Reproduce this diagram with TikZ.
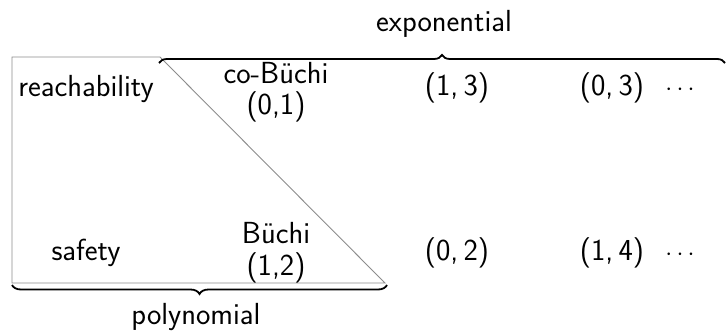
\documentclass[tikz,border=0pt]{standalone}
\usetikzlibrary{decorations.pathreplacing}
\begin{document}
\begin{tikzpicture}[x=1pt,y=1pt,
  lbl/.style={font=\sffamily\fontsize{30.5}{36}\selectfont, inner sep=0pt, align=center},
  region/.style={draw=black!45, line width=0.9pt},
  bracestyle/.style={draw=black, line width=1.8pt, decorate}]
\useasboundingbox (0,0) rectangle (726,330);
% trapezoid
\coordinate (tl) at (12,273);
\coordinate (tr) at (160,273);
\coordinate (br) at (385,47);
\coordinate (bl) at (12,47);
\draw[region] (tl) -- (tr) -- (br) -- (bl) -- cycle;
% braces
\coordinate (ea) at (159,267);
\coordinate (eb) at (725,267);
\draw[bracestyle, decoration={brace, amplitude=8pt}] (ea) -- (eb);
\coordinate (pa) at (12,45);
\coordinate (pb) at (387,45);
\draw[bracestyle, decoration={brace, mirror, amplitude=9pt}] (pa) -- (pb);
% labels
\node[lbl] (exp) at (444,306) {exponential};
\node[lbl] (poly) at (196,13) {polynomial};
\node[lbl] (reach) at (86,241) {reachability};
\node[lbl] (safe) at (86,77) {safety};
\node[lbl] (cob) at (276,257) {co-Büchi};
\node[lbl] (cobn) at (276,223) {(0,1)};
\node[lbl] (bu) at (276,97) {Büchi};
\node[lbl] (bun) at (276,62) {(1,2)};
\node[lbl] (a13) at (457,242) {(1,\,3)};
\node[lbl] (a03) at (612,242) {(0,\,3)};
\node[lbl] (d1) at (680,240) {$\cdots$};
\node[lbl] (a02) at (457,77) {(0,\,2)};
\node[lbl] (a14) at (612,77) {(1,\,4)};
\node[lbl] (d2) at (680,75) {$\cdots$};
\end{tikzpicture}
\end{document}
